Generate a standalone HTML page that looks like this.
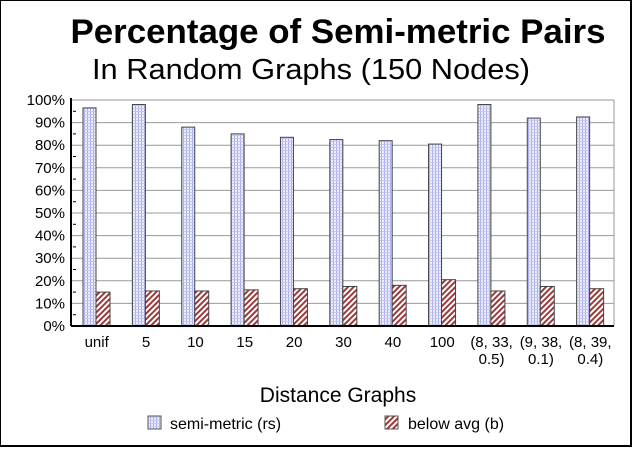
<!DOCTYPE html>
<html><head><meta charset="utf-8"><style>
body{margin:0;background:#fff;width:640px;height:456px;overflow:hidden;font-family:"Liberation Sans",sans-serif}
</style></head><body>
<svg width="640" height="456" xmlns="http://www.w3.org/2000/svg">
<defs>
<pattern id="grid" width="3" height="3" patternUnits="userSpaceOnUse"><rect width="3" height="3" fill="#eceefc"/><rect width="1" height="3" fill="#a8acec"/><rect width="3" height="1" fill="#c4c7f2"/></pattern>
<pattern id="hatch" width="4" height="4" patternUnits="userSpaceOnUse" patternTransform="rotate(45)"><rect width="4" height="4" fill="#fff"/><rect width="2" height="4" fill="#9b3a3a"/></pattern>
</defs>
<rect x="0" y="0" width="631" height="446" fill="#fff" stroke="#000" stroke-width="2"/>
<text x="338" y="43" text-anchor="middle" font-size="34" font-weight="bold" textLength="535" lengthAdjust="spacingAndGlyphs">Percentage of Semi-metric Pairs</text>
<text x="311" y="79" text-anchor="middle" font-size="29" textLength="438" lengthAdjust="spacingAndGlyphs">In Random Graphs (150 Nodes)</text>
<g id="plot"></g>
<text x="338" y="402" text-anchor="middle" font-size="21">Distance Graphs</text>
<g>
<rect x="148" y="416" width="13" height="13" fill="url(#grid)" stroke="#555"/>
<text x="170" y="429" font-size="16">semi-metric (rs)</text>
<rect x="385" y="416" width="13" height="13" fill="url(#hatch)" stroke="#555"/>
<text x="408" y="429" font-size="16">below avg (b)</text>
</g>
</svg>
<script>
const categories=[["unif"],["5"],["10"],["15"],["20"],["30"],["40"],["100"],["(8, 33,","0.5)"],["(9, 38,","0.1)"],["(8, 39,","0.4)"]];
const semiMetric=[96.5,98,88,85,83.5,82.5,82,80.5,98,92,92.5];
const belowAvg=[15,15.5,15.5,16,16.5,17.5,18,20.5,15.5,17.5,16.5];
const yTicks=[0,10,20,30,40,50,60,70,80,90,100];
const NS="http://www.w3.org/2000/svg";
const X0=71,X1=614,Y0=326,Y1=100;
const bw=(X1-X0)/categories.length;
const y=v=>Y0-(v/100)*(Y0-Y1);
const g=document.getElementById('plot');
function mk(t,a){const e=document.createElementNS(NS,t);for(const k in a)e.setAttribute(k,a[k]);g.appendChild(e);return e;}
yTicks.forEach(t=>{
 if(t>0){const l=mk('line',{x1:X0,x2:X1,y1:y(t),y2:y(t),stroke:'#999','stroke-width':1});
 
 }
 const tx=mk('text',{x:X0-6,y:y(t)+5,'text-anchor':'end','font-size':15});tx.textContent=t+'%';
 
 
 if(t<100){const m=mk('line',{x1:X0+2,x2:X0+5,y1:y(t+5),y2:y(t+5),stroke:'#000'});
 
 }
});
mk('line',{x1:X1,x2:X1,y1:Y1,y2:Y0,stroke:'#999'});
mk('line',{x1:X0,x2:X1,y1:Y1,y2:Y1,stroke:'#999'});
categories.forEach((c,i)=>{
 const cx=X0+i*bw;
 const b1=mk('rect',{x:cx+12,y:y(semiMetric[i]),width:13,height:Y0-y(semiMetric[i]),fill:'url(#grid)',stroke:'#444','stroke-width':1});
 
 
 const b2=mk('rect',{x:cx+25,y:y(belowAvg[i]),width:14,height:Y0-y(belowAvg[i]),fill:'url(#hatch)',stroke:'#444','stroke-width':1});
 
 
 c.forEach((s,j)=>{const t=mk('text',{x:cx+bw/2+1,y:347+j*17,'text-anchor':'middle','font-size':15});t.textContent=s;
 
 });
});
mk('line',{x1:X0,x2:X0,y1:Y1-2,y2:Y0,stroke:'#000','stroke-width':2});
mk('line',{x1:X0,x2:X1,y1:Y0,y2:Y0,stroke:'#000','stroke-width':2});
</script>
</body></html>
